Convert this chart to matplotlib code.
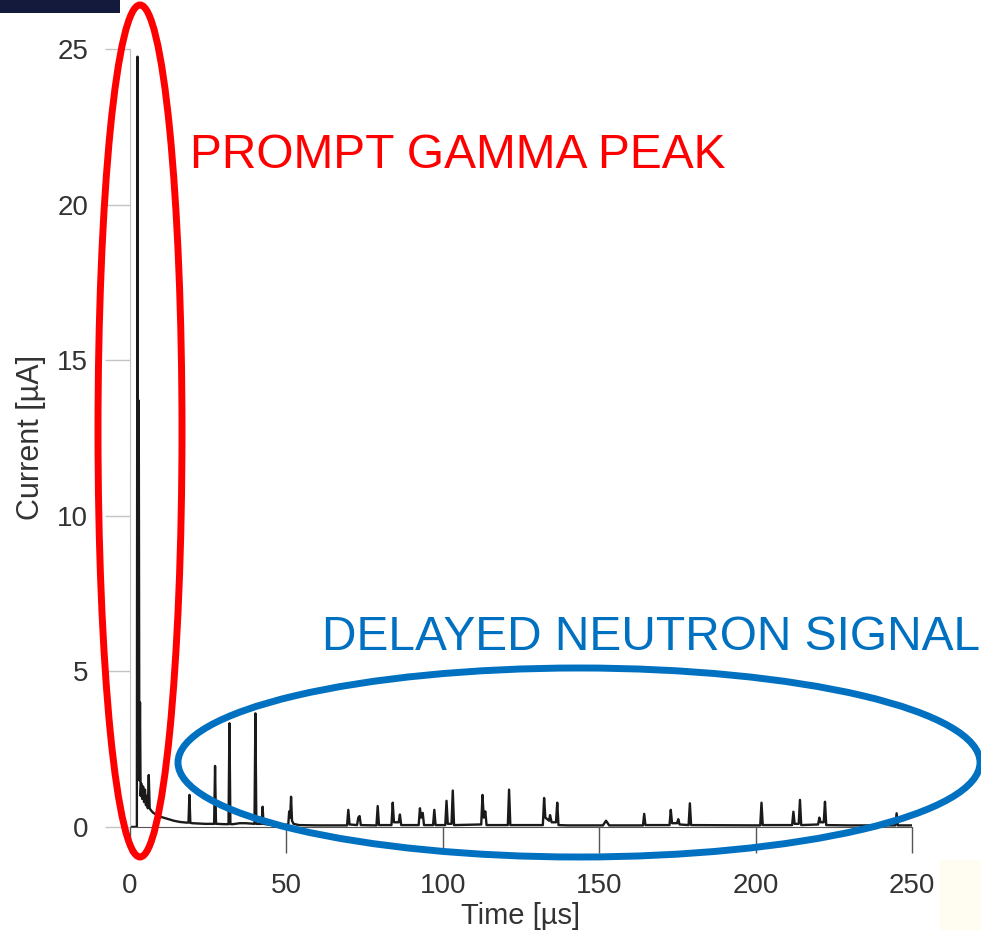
import matplotlib
matplotlib.use("Agg")
import matplotlib.pyplot as plt
from matplotlib.patches import Ellipse, Rectangle

plt.rcParams['font.family'] = ['Liberation Sans', 'DejaVu Sans']

# detector current trace (time in us, current in uA)
trace_t = [0.0, 2.2, 2.4, 2.6, 2.8, 3.0, 3.2, 3.4, 3.6, 3.9, 4.2, 4.5, 4.8, 5.1, 5.4, 5.7,
           6.0, 6.3, 6.6, 7.0, 7.5, 8.0, 9.0, 10.0, 11.0, 12.0, 14.0, 16.0, 18.0,
           18.7, 19.0, 19.3, 20.0, 22.0, 24.0, 26.0, 26.9, 27.2, 27.5, 28.0, 30.0,
           31.5, 31.8, 32.1, 33.0, 35.0, 37.0, 39.8, 40.1, 40.4, 41.0, 42.1, 42.4, 42.7,
           44.0, 46.0, 48.0, 50.6, 50.9, 51.2, 51.5, 51.8, 52.3, 54.0, 60.0,
           69.4, 69.8, 70.2, 72.6, 73.0, 73.4, 73.8, 78.8, 79.2, 79.6,
           83.6, 84.0, 84.4, 85.9, 86.3, 86.7, 92.3, 92.7, 93.1, 93.6, 94.0,
           96.9, 97.3, 97.7, 100.8, 101.2, 101.6, 102.8, 103.2, 103.6,
           112.3, 112.7, 113.1, 113.6, 114.0, 120.8, 121.2, 121.6,
           132.0, 132.4, 132.8, 134.0, 134.3, 134.8, 136.2, 136.6, 137.0, 140.0,
           151.2, 152.2, 153.2, 164.0, 164.4, 164.8, 172.5, 172.9, 173.3, 174.9, 175.3, 175.7,
           178.6, 179.0, 179.4, 201.5, 201.9, 202.3, 211.7, 212.1, 212.5, 213.8, 214.2, 214.6,
           220.0, 220.4, 220.8, 221.8, 222.2, 222.6, 230.0, 244.7, 245.1, 245.5, 250.0]
trace_i = [0.0, 0.0, 24.75, 2.0, 13.7, 1.5, 4.0, 1.0, 1.4, 0.9, 1.3, 0.8, 1.2, 0.7, 1.0, 0.6,
           1.67, 0.6, 0.55, 0.5, 0.45, 0.42, 0.36, 0.32, 0.29, 0.26, 0.2, 0.16, 0.14,
           0.14, 1.03, 0.13, 0.12, 0.11, 0.10, 0.10, 0.10, 1.96, 0.10, 0.10, 0.09,
           0.09, 3.33, 0.09, 0.09, 0.12, 0.12, 0.10, 3.65, 0.10, 0.10, 0.10, 0.65, 0.10,
           0.08, 0.07, 0.07, 0.07, 0.5, 0.3, 0.97, 0.2, 0.10, 0.06, 0.05,
           0.05, 0.55, 0.08, 0.06, 0.3, 0.35, 0.06, 0.05, 0.67, 0.06,
           0.06, 0.78, 0.15, 0.15, 0.4, 0.06, 0.06, 0.6, 0.3, 0.45, 0.06,
           0.06, 0.55, 0.06, 0.06, 0.84, 0.10, 0.10, 1.17, 0.06,
           0.08, 1.03, 0.3, 0.5, 0.06, 0.06, 1.2, 0.06,
           0.06, 0.93, 0.3, 0.2, 0.38, 0.15, 0.15, 0.78, 0.06, 0.05,
           0.05, 0.2, 0.05, 0.05, 0.42, 0.06, 0.06, 0.55, 0.12, 0.12, 0.25, 0.08,
           0.06, 0.76, 0.06, 0.05, 0.78, 0.06, 0.06, 0.49, 0.10, 0.10, 0.87, 0.06,
           0.08, 0.3, 0.15, 0.15, 0.81, 0.06, 0.05, 0.05, 0.44, 0.05, 0.05]

x_ticks = [0, 50, 100, 150, 200, 250]
y_ticks = [0, 5, 10, 15, 20, 25]

fig = plt.figure(figsize=(9.81, 9.30), dpi=100)
ax = fig.add_axes([0.1325, 0.1108, 0.7971, 0.8366])

ax.plot(trace_t, trace_i, color='#1a1a1a', lw=1.7)

ax.set_xlim(0, 250)
ax.set_ylim(0, 25)
ax.set_xticks(x_ticks)
ax.set_yticks(y_ticks)

ax.spines['top'].set_visible(False)
ax.spines['right'].set_visible(False)
ax.spines['left'].set_color('#c4c4c4')
ax.spines['bottom'].set_color('#555555')
ax.tick_params(axis='y', direction='out', length=18, width=1.0, color='#c4c4c4',
               pad=12, labelsize=20, labelcolor='#333333')
ax.tick_params(axis='x', direction='out', length=19, width=1.0, color='#555555',
               pad=14, labelsize=20, labelcolor='#333333')

ax.set_xlabel('Time [\u00b5s]', fontsize=21, color='#333333', labelpad=2)
ax.set_ylabel('Current [\u00b5A]', fontsize=22, color='#333333', labelpad=8)

# slide annotations drawn on top, in figure fraction
W, H = 981.0, 930.0
fig.patches.append(Ellipse((140 / W, 1 - 431 / H), 84 / W, 852 / H, transform=fig.transFigure,
                           fill=False, edgecolor='#ff0000', lw=5, zorder=10))
fig.patches.append(Ellipse((579 / W, 1 - 762.5 / H), 802 / W, 189 / H, transform=fig.transFigure,
                           fill=False, edgecolor='#0070c0', lw=5, zorder=10))
fig.text(190 / W, 1 - 155 / H, 'PROMPT GAMMA PEAK', color='#ff0000', fontsize=34.5,
         ha='left', va='center')
fig.text(322 / W, 1 - 637 / H, 'DELAYED NEUTRON SIGNAL', color='#0070c0', fontsize=34.5,
         ha='left', va='center')

# bits of the slide background around the picture
fig.patches.append(Rectangle((0, 1 - 13 / H), 120 / W, 13 / H, transform=fig.transFigure,
                             facecolor='#141a3c', edgecolor='none', zorder=0))
fig.patches.append(Rectangle((940 / W, 0), 41 / W, 70 / H, transform=fig.transFigure,
                             facecolor='#fffcf2', edgecolor='none', zorder=0))

fig.savefig('out.png', dpi=100)
